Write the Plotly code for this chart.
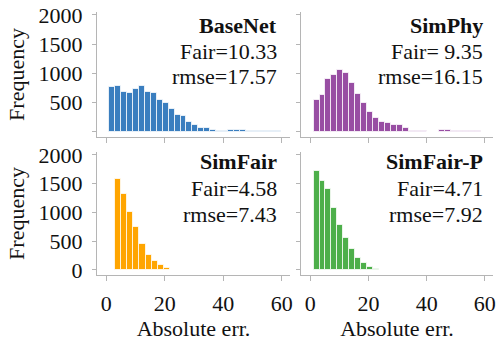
import plotly.graph_objects as go

# --- data ---
panel_names = ["BaseNet", "SimPhy", "SimFair", "SimFair-P"]
fair_labels = ["Fair=10.33", "Fair= 9.35", "Fair=4.58", "Fair=4.71"]
rmse_labels = ["rmse=17.57", "rmse=16.15", "rmse=7.43", "rmse=7.92"]

# histogram counts (per bin), left edge of first bin and bin width
basenet_counts = [763, 792, 682, 671, 740, 780, 682, 671, 549, 486, 399, 283, 270, 172, 120,
                  63, 63, 40, 17, 17, 29, 34, 34, 17, 23, 17, 23, 12, 10]
simphy_counts = [538, 630, 896, 977, 1052, 1006, 832, 647, 497, 347, 240, 167, 146, 118, 110,
                 60, 23, 8, 10, 0, 6, 40, 34, 23, 12, 23, 12, 12]
simfair_counts = [1580, 1328, 1000, 753, 448, 264, 155, 86, 34, 6]
simfairp_counts = [1714, 1554, 1406, 1080, 789, 554, 360, 200, 114, 57, 23]

bin_starts = [1.0, 1.1, 3.0, 1.1]
bin_widths = [2.03, 2.06, 2.08, 2.06]

x_ticks = [0, 20, 40, 60]
y_ticks = [0, 500, 1000, 1500, 2000]
y_ticklabels_top = ["", "500", "1000", "1500", "2000"]
y_ticklabels_bottom = ["0", "500", "1000", "1500", "2000"]

colors = ["#3a7ebf", "#984ea3", "#ffa500", "#4daf4a"]
all_counts = [basenet_counts, simphy_counts, simfair_counts, simfairp_counts]

FONT = "Times New Roman, Liberation Serif, Tinos, Times, serif"
W, H = 499, 344

# panel boxes in pixels: left, right, top, bottom
boxes = [(97, 290, 12, 137), (301, 493, 12, 137),
         (97, 290, 152, 275), (301, 493, 152, 275)]
text_right = [279, 485, 279, 485]
text_rows = [[25, 51, 77], [25, 51, 77], [162, 188, 214], [162, 188, 214]]


def px_x(p):
    return p / W


def px_y(p):
    return 1 - p / H


fig = go.Figure()
layout = {}
for i, counts in enumerate(all_counts):
    n = i + 1
    xs = [bin_starts[i] + bin_widths[i] * (k + 0.5) for k in range(len(counts))]
    fig.add_trace(go.Bar(
        x=xs, y=counts, width=bin_widths[i],
        marker=dict(color=colors[i], line=dict(color="rgba(255,255,255,0.75)", width=1)),
        xaxis=f"x{n}", yaxis=f"y{n}", showlegend=False,
    ))
    l, r, t, b = boxes[i]
    is_bottom = i >= 2
    is_left = i % 2 == 0
    layout[f"xaxis{n}"] = dict(
        domain=[px_x(l), px_x(r)], anchor=f"y{n}", range=[-3.2, 62.8],
        tickvals=x_ticks, showticklabels=is_bottom, automargin=False,
        ticklabeloverflow="allow",
        ticks="outside", ticklen=5, tickcolor="#b5b5b5", tickwidth=1,
        showline=True, linecolor="#b5b5b5", linewidth=1,
        showgrid=False, zeroline=False,
        tickfont=dict(family=FONT, size=22, color="#111"),
        ticklabelstandoff=4,
        title=dict(text="Absolute err." if is_bottom else "", font=dict(family=FONT, size=22, color="#111"),
                   standoff=4),
    )
    layout[f"yaxis{n}"] = dict(
        domain=[px_y(b), px_y(t)], anchor=f"x{n}", range=[-88, 2050],
        tickvals=y_ticks, automargin=False,
        ticklabeloverflow="allow",
        ticktext=y_ticklabels_bottom if is_bottom else y_ticklabels_top,
        showticklabels=is_left,
        ticks="outside", ticklen=4, tickcolor="#b5b5b5", tickwidth=1,
        showline=True, linecolor="#b5b5b5", linewidth=1,
        showgrid=False, zeroline=False,
        tickfont=dict(family=FONT, size=22, color="#111"),
        ticklabelstandoff=5,
        title=dict(text="Frequency" if is_left else "", font=dict(family=FONT, size=22, color="#111"),
                   standoff=7),
    )
    # panel labels, right aligned
    lines = [f"<b>{panel_names[i]}</b>", fair_labels[i], rmse_labels[i]]
    for txt, yy in zip(lines, text_rows[i]):
        fig.add_annotation(
            x=px_x(text_right[i]), y=px_y(yy), xref="paper", yref="paper",
            text=txt, showarrow=False, xanchor="right", yanchor="middle",
            font=dict(family=FONT, size=22, color="#111"),
        )

fig.update_layout(
    width=W, height=H,
    margin=dict(l=0, r=0, t=0, b=0),
    paper_bgcolor="white", plot_bgcolor="white",
    bargap=0,
    **layout,
)

# drop the default 8px body margin so the figure fills the window exactly
fig.write_html("out.html", config={"displayModeBar": False},
               post_script="document.body.style.margin = '0';")
